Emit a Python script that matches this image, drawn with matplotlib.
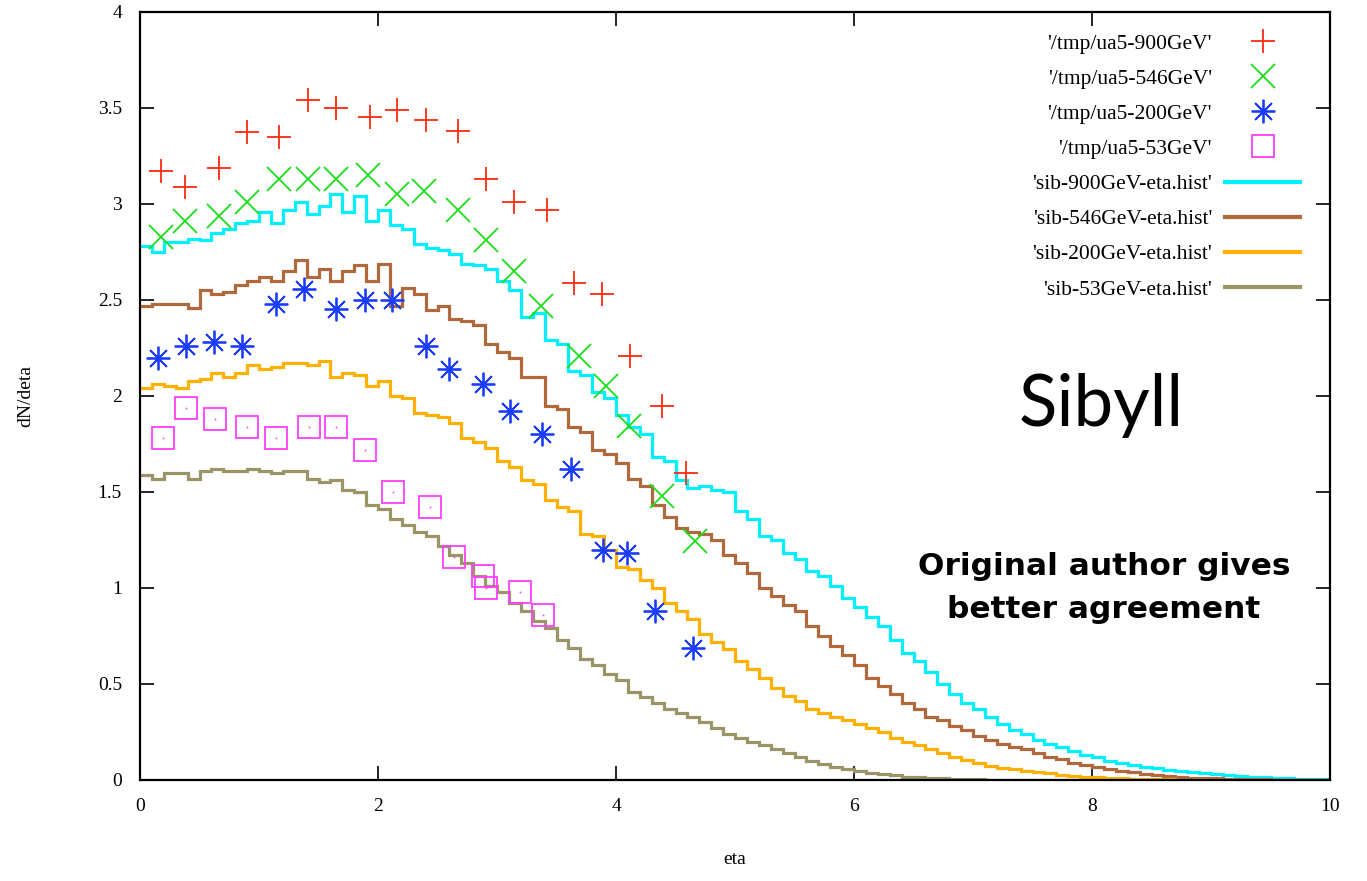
import numpy as np
import matplotlib
matplotlib.use("Agg")
import matplotlib.pyplot as plt
from matplotlib.lines import Line2D

# ---------------- data ----------------
# UA5 measurements (markers)
eta_900 = [0.18, 0.38, 0.66, 0.90, 1.17, 1.41, 1.65, 1.93, 2.16, 2.40, 2.67, 2.91, 3.14, 3.42, 3.65, 3.885, 4.12, 4.39, 4.59]
dn_900 = [3.17, 3.09, 3.19, 3.375, 3.35, 3.54, 3.50, 3.455, 3.49, 3.44, 3.38, 3.13, 3.01, 2.97, 2.59, 2.53, 2.21, 1.95, 1.60]

eta_546 = [0.18, 0.38, 0.66, 0.90, 1.17, 1.41, 1.645, 1.92, 2.16, 2.39, 2.67, 2.905, 3.14, 3.37, 3.69, 3.92, 4.11, 4.39, 4.66]
dn_546 = [2.83, 2.91, 2.94, 3.01, 3.13, 3.13, 3.13, 3.15, 3.05, 3.07, 2.97, 2.81, 2.65, 2.47, 2.21, 2.05, 1.845, 1.48, 1.245]

eta_200 = [0.155, 0.39, 0.62, 0.86, 1.14, 1.375, 1.65, 1.89, 2.12, 2.40, 2.60, 2.88, 3.11, 3.38, 3.62, 3.89, 4.095, 4.33, 4.65]
dn_200 = [2.20, 2.26, 2.28, 2.26, 2.48, 2.555, 2.455, 2.50, 2.50, 2.26, 2.14, 2.06, 1.92, 1.80, 1.62, 1.20, 1.18, 0.88, 0.69]

eta_53 = [0.19, 0.39, 0.63, 0.90, 1.14, 1.42, 1.65, 1.89, 2.13, 2.44, 2.64, 2.88, 2.91, 3.19, 3.39]
dn_53 = [1.78, 1.94, 1.88, 1.84, 1.78, 1.84, 1.84, 1.72, 1.50, 1.42, 1.16, 1.06, 1.00, 0.98, 0.86]

# SIBYLL histograms, bins of width 0.1 from eta = 0 to 10
hist_lo, hist_hi, hist_nbins = 0.0, 10.0, 100

sib_900 = [2.78, 2.75, 2.80, 2.80, 2.82, 2.81, 2.85, 2.87, 2.90, 2.91,
           2.96, 2.90, 2.97, 3.01, 2.95, 2.99, 3.05, 2.96, 3.04, 2.91,
           2.97, 2.89, 2.87, 2.79, 2.77, 2.76, 2.74, 2.69, 2.68, 2.66,
           2.60, 2.55, 2.41, 2.43, 2.29, 2.27, 2.13, 2.11, 2.02, 1.99,
           1.90, 1.84, 1.80, 1.68, 1.66, 1.56, 1.52, 1.53, 1.51, 1.50,
           1.40, 1.36, 1.27, 1.25, 1.18, 1.15, 1.09, 1.06, 1.01, 0.95,
           0.90, 0.85, 0.80, 0.73, 0.66, 0.62, 0.56, 0.50, 0.45, 0.40,
           0.37, 0.33, 0.29, 0.26, 0.24, 0.21, 0.19, 0.17, 0.15, 0.13,
           0.12, 0.10, 0.09, 0.08, 0.07, 0.06, 0.05, 0.045, 0.04, 0.035,
           0.03, 0.025, 0.02, 0.017, 0.014, 0.011, 0.008, 0.006, 0.004, 0.003]

sib_546 = [2.47, 2.48, 2.48, 2.48, 2.46, 2.55, 2.53, 2.54, 2.58, 2.60,
           2.62, 2.60, 2.65, 2.71, 2.62, 2.66, 2.60, 2.65, 2.68, 2.60,
           2.69, 2.47, 2.56, 2.53, 2.45, 2.47, 2.40, 2.39, 2.37, 2.27,
           2.23, 2.20, 2.10, 2.10, 1.95, 1.93, 1.84, 1.81, 1.72, 1.70,
           1.65, 1.57, 1.53, 1.43, 1.37, 1.31, 1.29, 1.28, 1.25, 1.17,
           1.13, 1.08, 1.00, 0.96, 0.91, 0.88, 0.80, 0.75, 0.70, 0.65,
           0.60, 0.53, 0.49, 0.45, 0.40, 0.37, 0.33, 0.31, 0.28, 0.26,
           0.23, 0.21, 0.19, 0.17, 0.16, 0.14, 0.12, 0.11, 0.09, 0.08,
           0.07, 0.055, 0.045, 0.04, 0.032, 0.025, 0.02, 0.016, 0.013, 0.01,
           0.008, 0.006, 0.005, 0.004, 0.003, 0.002, 0.002, 0.001, 0.001, 0.0]

sib_200 = [2.04, 2.06, 2.05, 2.04, 2.08, 2.09, 2.12, 2.10, 2.12, 2.16,
           2.14, 2.15, 2.17, 2.17, 2.16, 2.18, 2.10, 2.12, 2.11, 2.05,
           2.08, 2.00, 1.99, 1.91, 1.90, 1.89, 1.86, 1.78, 1.76, 1.73,
           1.66, 1.63, 1.56, 1.54, 1.46, 1.42, 1.40, 1.28, 1.27, 1.20,
           1.11, 1.10, 1.04, 1.00, 0.92, 0.88, 0.84, 0.76, 0.72, 0.68,
           0.62, 0.58, 0.53, 0.48, 0.44, 0.41, 0.37, 0.35, 0.33, 0.31,
           0.29, 0.27, 0.25, 0.22, 0.20, 0.18, 0.16, 0.14, 0.12, 0.105,
           0.09, 0.075, 0.065, 0.055, 0.048, 0.04, 0.034, 0.028, 0.022, 0.018,
           0.014, 0.011, 0.009, 0.007, 0.005, 0.004, 0.003, 0.002, 0.002, 0.001,
           0.001, 0.0, 0.0, 0.0, 0.0, 0.0, 0.0, 0.0, 0.0, 0.0]

sib_53 = [1.59, 1.57, 1.60, 1.60, 1.57, 1.61, 1.62, 1.61, 1.61, 1.62,
          1.61, 1.60, 1.61, 1.61, 1.57, 1.55, 1.56, 1.51, 1.50, 1.43,
          1.41, 1.36, 1.33, 1.29, 1.27, 1.22, 1.17, 1.13, 1.06, 1.01,
          0.98, 0.92, 0.88, 0.83, 0.79, 0.73, 0.69, 0.63, 0.60, 0.55,
          0.52, 0.46, 0.43, 0.40, 0.37, 0.35, 0.33, 0.30, 0.27, 0.24,
          0.22, 0.20, 0.18, 0.16, 0.14, 0.12, 0.10, 0.085, 0.07, 0.058,
          0.047, 0.038, 0.03, 0.024, 0.018, 0.014, 0.01, 0.008, 0.006, 0.004,
          0.003, 0.002, 0.001, 0.001, 0.0, 0.0, 0.0, 0.0, 0.0, 0.0,
          0.0, 0.0, 0.0, 0.0, 0.0, 0.0, 0.0, 0.0, 0.0, 0.0,
          0.0, 0.0, 0.0, 0.0, 0.0, 0.0, 0.0, 0.0, 0.0, 0.0]

labels_pts = ["'/tmp/ua5-900GeV'", "'/tmp/ua5-546GeV'", "'/tmp/ua5-200GeV'", "'/tmp/ua5-53GeV'"]
labels_hist = ["'sib-900GeV-eta.hist'", "'sib-546GeV-eta.hist'", "'sib-200GeV-eta.hist'", "'sib-53GeV-eta.hist'"]
x_ticks = [0, 2, 4, 6, 8, 10]
y_ticks = [0, 0.5, 1, 1.5, 2, 2.5, 3, 3.5, 4]
y_ticklabels = ["0", "0.5", "1", "1.5", "2", "2.5", "3", "3.5", "4"]

# ---------------- style ----------------
c_red, c_green, c_blue, c_mag = "#ff2a10", "#1adc1a", "#1a3cff", "#ff40ff"
c_cyan, c_brown, c_orange, c_olive = "#00f0ff", "#b0693c", "#ffb000", "#9a9466"
serif = ["Liberation Serif", "DejaVu Serif"]

fig = plt.figure(figsize=(13.67, 8.81), dpi=100)
ax = fig.add_axes([140 / 1367, 101 / 881, 1190 / 1367, 768 / 881])

edges = np.linspace(hist_lo, hist_hi, hist_nbins + 1)
lw_h = 2.3
ax.stairs(sib_900, edges, baseline=None, color=c_cyan, lw=lw_h, zorder=2)
ax.stairs(sib_546, edges, baseline=None, color=c_brown, lw=lw_h, zorder=2)
ax.stairs(sib_200, edges, baseline=None, color=c_orange, lw=lw_h, zorder=2)
ax.stairs(sib_53, edges, baseline=None, color=c_olive, lw=lw_h, zorder=2)

ms = 17
ax.plot(eta_900, dn_900, ls="none", marker="+", ms=ms, mew=1.3, color=c_red, zorder=3)
ax.plot(eta_546, dn_546, ls="none", marker="x", ms=ms, mew=1.3, color=c_green, zorder=3)
ax.plot(eta_200, dn_200, ls="none", marker=(8, 2, 0), ms=ms, mew=1.3, color=c_blue, zorder=3)
ax.plot(eta_53, dn_53, ls="none", marker="s", ms=ms - 1, mew=1.3, mfc="none", mec=c_mag, zorder=3)
ax.plot(eta_53, dn_53, ls="none", marker="o", ms=1.3, mew=0, color=c_mag, zorder=3)

ax.set_xlim(0, 10)
ax.set_ylim(0, 4)
ax.set_xticks(x_ticks)
ax.set_xticklabels([str(t) for t in x_ticks], fontfamily=serif, fontsize=14)
ax.set_yticks(y_ticks)
ax.set_yticklabels(y_ticklabels, fontfamily=serif, fontsize=14)
ax.tick_params(direction="in", length=10, width=1.2, top=True, right=True, pad=13)
for s in ax.spines.values():
    s.set_linewidth(1.6)

ax.set_xlabel("eta", fontfamily=serif, fontsize=14, labelpad=26)
ax.set_ylabel("dN/deta", fontfamily=serif, fontsize=14, labelpad=46)

# legend
handles = [
    Line2D([], [], ls="none", marker="+", ms=ms, mew=1.3, color=c_red),
    Line2D([], [], ls="none", marker="x", ms=ms, mew=1.3, color=c_green),
    Line2D([], [], ls="none", marker=(8, 2, 0), ms=ms, mew=1.3, color=c_blue),
    Line2D([], [], ls="none", marker="s", ms=ms - 1, mew=1.3, mfc="none", mec=c_mag),
    Line2D([], [], color=c_cyan, lw=3),
    Line2D([], [], color=c_brown, lw=3),
    Line2D([], [], color=c_orange, lw=3),
    Line2D([], [], color=c_olive, lw=3),
]
leg = ax.legend(handles, labels_pts + labels_hist, loc="upper right", markerfirst=False,
                frameon=False, prop={"family": serif, "size": 15.5}, handlelength=3.5,
                labelspacing=0.7, handletextpad=0.6, borderaxespad=0.0,
                borderpad=0.0, bbox_to_anchor=(0.975, 0.972))

ax.text(0.808, 0.488, "Sibyll", transform=ax.transAxes, ha="center", va="center",
        fontsize=51, fontfamily=["Lato", "DejaVu Sans"])
ax.text(0.81, 0.25, "Original author gives\nbetter agreement", transform=ax.transAxes,
        ha="center", va="center", fontsize=22.5, fontweight="bold", linespacing=1.6,
        fontfamily=["DejaVu Sans"])

fig.savefig("out.png", dpi=100)
